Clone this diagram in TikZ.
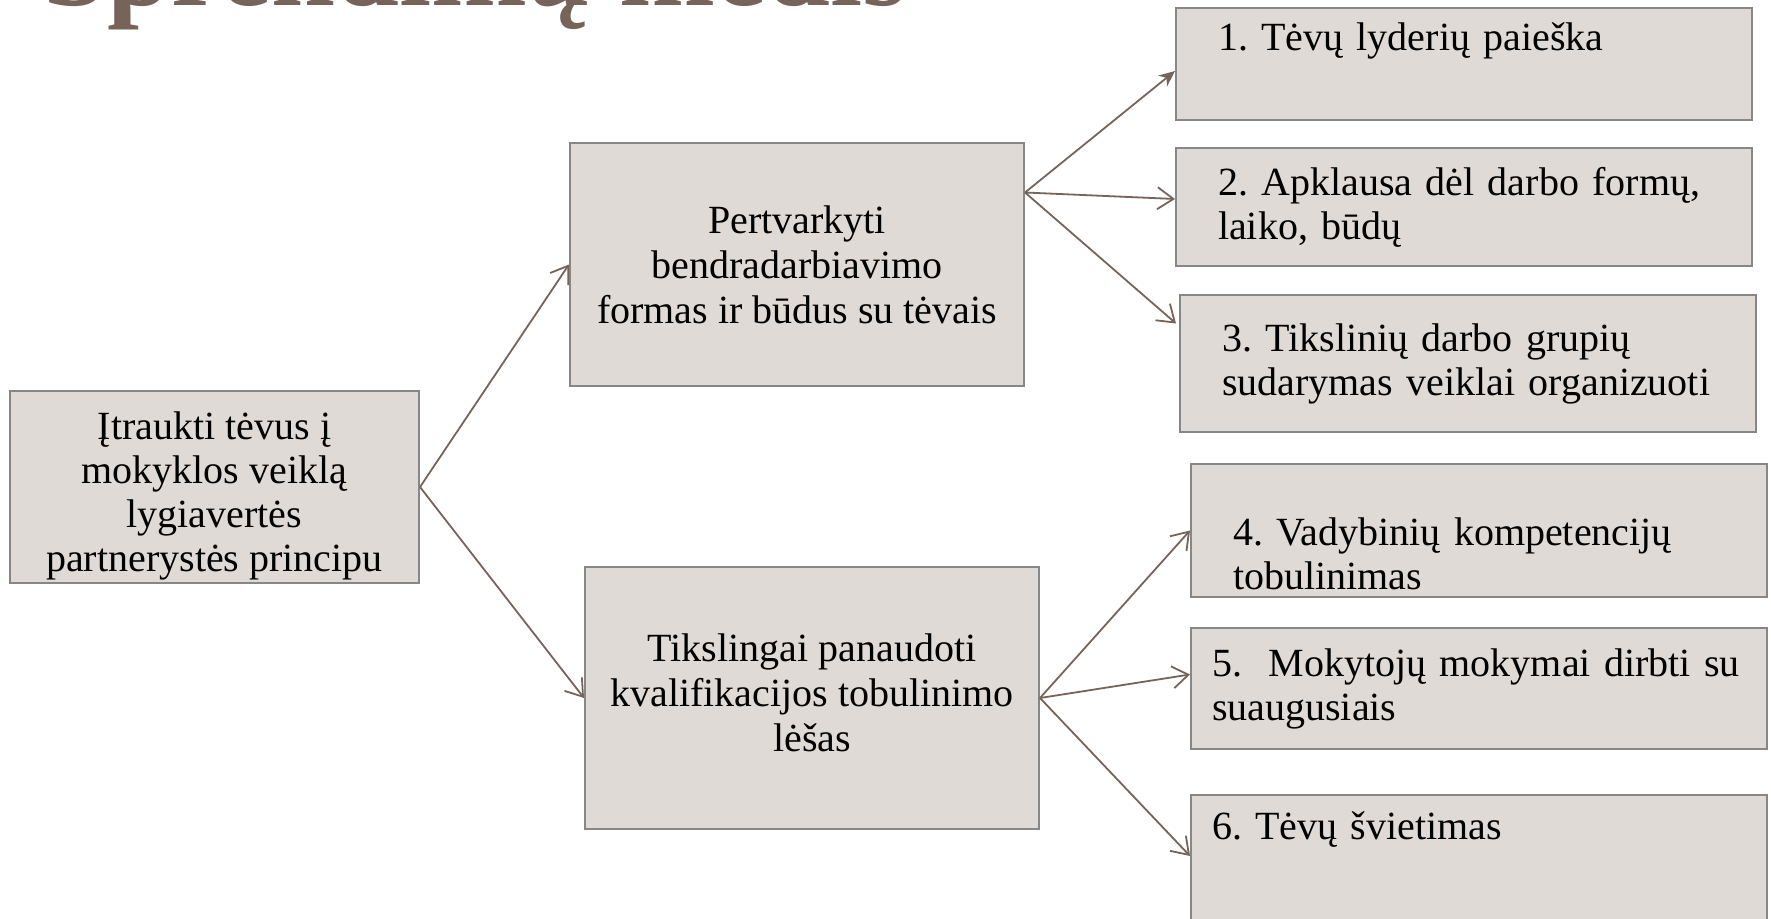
\documentclass[tikz,border=0pt]{standalone}
\usepackage{fontspec}
\setmainfont{Liberation Serif}
\usepackage{xcolor}
\usetikzlibrary{positioning,arrows.meta}
\frenchspacing

\definecolor{boxfill}{RGB}{223,218,214}
\definecolor{boxline}{RGB}{135,135,135}
\definecolor{linkcol}{RGB}{118,100,90}

\begin{document}
\begin{tikzpicture}[x=0.5pt, y=-0.5pt,
    goal/.style={rectangle, draw=boxline, line width=1pt, fill=boxfill, align=center, inner sep=0pt, font=\fontsize{20}{22.5}\selectfont},
    task/.style={rectangle, draw=boxline, line width=1pt, fill=boxfill, align=left, anchor=north west, text width=246pt, inner xsep=21pt, inner ysep=0pt, font=\fontsize{20}{22}\selectfont},
    heading/.style={font=\fontsize{57.5}{60}\selectfont\bfseries, text=linkcol, inner sep=0pt, anchor=base west},
    link/.style={draw=linkcol, line width=0.9pt, -{Straight Barb[length=8pt, width=11pt]}}]

    \useasboundingbox (0,0) rectangle (1771,919);
    \clip (0,0) rectangle (1771,919);

    % Title, cut by the top edge
    \node [heading] (title) at (43,6) {Sprendimų medis};

    % Goal and its two measures
    \node [goal, minimum width=204.5pt, minimum height=96pt, font=\fontsize{20}{21.9}\selectfont] (lead) at (214.5,487)
        {\rule{0pt}{23pt}Įtraukti tėvus į\\mokyklos veiklą\\lygiavertės\\partnerystės principu};
    \node [goal, minimum width=227pt, minimum height=121.5pt] (reform) at (797,264.5)
        {Pertvarkyti\\bendradarbiavimo\\formas ir būdus su tėvais};
    \node [goal, minimum width=227pt, minimum height=131pt] (funds) at (812,698)
        {Tikslingai panaudoti\\kvalifikacijos tobulinimo\\lėšas\rule[-5.6pt]{0pt}{5.6pt}};

    % Tasks of the first measure
    \node [task, minimum height=56pt] (t1) at (1175,7) {\strut 1. Tėvų lyderių paieška\\\strut};
    \node [task, minimum height=59pt, below=13pt of t1] (t2) {2. Apklausa dėl darbo formų,\\laiko, būdų};
    \node [task, minimum height=68.5pt, below=13.5pt of t2, xshift=2pt] (t3) {3. Tikslinių darbo grupių\\sudarymas veiklai organizuoti};

    % Tasks of the second measure
    \node [task, minimum height=66.5pt, below=15pt of t3, xshift=5.5pt] (t4) {\strut\\4. Vadybinių kompetencijų\\tobulinimas};
    \node [task, minimum height=60.5pt, text width=267pt, inner xsep=10.5pt, below=14.5pt of t4] (t5) {5.\ \ Mokytojų mokymai dirbti su\\suaugusiais};
    \node [task, minimum height=80pt, text width=267pt, inner xsep=10.5pt, below=22pt of t5] (t6) {\strut 6. Tėvų švietimas\\\strut\\\strut};

    % Connectors
    \draw [link] (lead.east) -- (reform.west);
    \draw [link] (lead.east) -- (funds.west);
    \draw [link, -{Stealth[length=8pt, width=7pt]}] ([yshift=36pt]reform.east) -- ([yshift=-3.5pt]t1.west);
    \draw [link] ([yshift=36pt]reform.east) -- ([yshift=4pt]t2.west);
    \draw [link] ([yshift=36pt]reform.east) -- ([yshift=20pt, xshift=-1.5pt]t3.west);
    \draw [link] (funds.east) -- (t4.west);
    \draw [link] (funds.east) -- ([yshift=7pt]t5.west);
    \draw [link] (funds.east) -- ([yshift=9.5pt]t6.west);
\end{tikzpicture}
\end{document}
